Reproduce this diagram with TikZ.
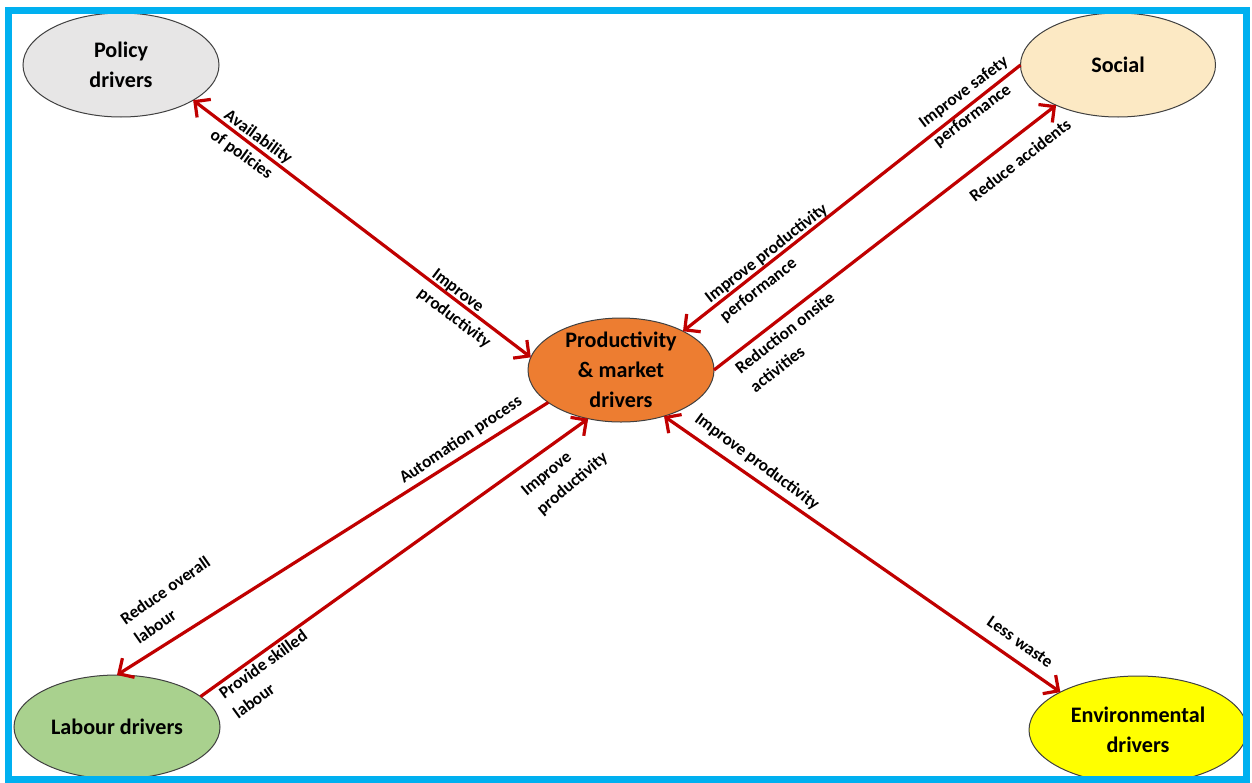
\documentclass[tikz,border=0pt]{standalone}
\usepackage{fontspec}
\setmainfont{Carlito}
\usetikzlibrary{arrows.meta,shapes.geometric}
\definecolor{framecyan}{RGB}{0,176,240}
\definecolor{arrowred}{RGB}{192,0,0}
\definecolor{policygrey}{RGB}{231,230,230}
\definecolor{socialbeige}{RGB}{252,233,196}
\definecolor{prodorange}{RGB}{237,125,49}
\definecolor{labourgreen}{RGB}{169,209,142}
\definecolor{envyellow}{RGB}{255,255,0}
\begin{document}
\begin{tikzpicture}[x=0.75pt,y=-0.75pt,
  >={Straight Barb[length=8.5pt,width=17pt]},
  bubble/.style={ellipse, draw=black!75, line width=0.75pt, inner sep=0pt, outer sep=0pt},
  bubbletext/.style={font=\fontsize{16.6}{22.5}\selectfont\bfseries, align=center, inner sep=0pt},
  tag/.style={font=\fontsize{12.9}{18}\selectfont\bfseries, align=left, inner sep=0pt},
  link/.style={draw=arrowred, line width=2.4pt}]

% canvas
\fill[white] (0,0) rectangle (1252,782);
\useasboundingbox (0,0) rectangle (1252,782);

% driver ellipses
\node[bubble, fill=policygrey, minimum width=147pt, minimum height=78pt] (pol) at (121,65) {};
\node[bubble, fill=socialbeige, minimum width=146.25pt, minimum height=78pt] (soc) at (1118,65) {};
\node[bubble, fill=prodorange, minimum width=139.5pt, minimum height=78pt] (prod) at (621,370) {};
\node[bubble, fill=labourgreen, minimum width=154.5pt, minimum height=78pt] (lab) at (117,727) {};
\node[bubble, fill=envyellow, minimum width=163.5pt, minimum height=81pt] (env) at (1138,730) {};

\node[bubbletext] (poltxt) at (pol) {Policy\\drivers};
\node[bubbletext] (soctxt) at (soc) {Social};
\node[bubbletext] (prodtxt) at (prod) {Productivity\\\& market\\drivers};
\node[bubbletext] (labtxt) at (lab) {Labour drivers};
\node[bubbletext] (envtxt) at (env) {Environmental\\drivers};

% connectors
\draw[link,<->] (pol.-26) -- (prod.172.5);
\draw[link,->] (soc.180) -- (prod.32.7);
\draw[link,->] (prod.0) -- (soc.-147);
\draw[link,->] (prod.-156.3) -- (lab.90);
\draw[link,->] (lab.20.9) -- (prod.-124.2);
\draw[link,<->] (prod.-47.8) -- (env.154.6);

% connector labels
\node[tag, rotate=-36] (t1) at (251,147) {Availability\\of policies};
\node[tag, rotate=-37] (t2) at (461,309) {Improve\\productivity};
\node[tag, rotate=37] (t3) at (971,102) {Improve safety\\performance};
\node[tag, rotate=38] (t4) at (774,263) {Improve productivity\\performance};
\node[tag, rotate=38] (t5) at (1020,160) {Reduce accidents};
\node[tag, rotate=38] (t6) at (792,342) {Reduction onsite\\activities};
\node[tag, rotate=34] (t7) at (461,440) {Automation process};
\node[tag, rotate=35] (t8) at (172,600) {Reduce overall\\labour};
\node[tag, rotate=36] (t9) at (270,674) {Provide skilled\\labour};
\node[tag, rotate=40] (t10) at (565,475) {Improve\\productivity};
\node[tag, rotate=-36.5] (t11) at (757,462) {Improve productivity};
\node[tag, rotate=-35] (t12) at (1020,642) {Less waste};

% outer frame
\draw[framecyan, line width=5.25pt] (8.75,10.5) rectangle (1246.5,779);
\end{tikzpicture}
\end{document}
